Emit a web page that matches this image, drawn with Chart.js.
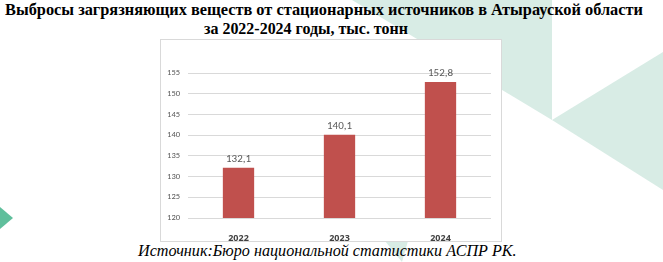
<!DOCTYPE html>
<html>
<head>
<meta charset="utf-8">
<script src="https://cdn.jsdelivr.net/npm/chart.js@4"></script>
<style>
  html, body { margin: 0; padding: 0; }
  body { width: 663px; height: 262px; position: relative; overflow: hidden; background: #fff; }
  #bg { position: absolute; left: 0; top: 0; }
  .title { position: absolute; font-family: 'Liberation Serif', serif; font-weight: bold; font-size: 16.5px; color: #000; white-space: nowrap; line-height: 1; }
  #source { position: absolute; font-family: 'Liberation Serif', serif; font-style: italic; font-size: 15.5px; color: #000; white-space: nowrap; line-height: 1; }
  #chartBox { position: absolute; left: 160px; top: 39px; width: 340px; height: 201px; border: 1px solid #d9d9d9; background: #fff; }
</style>
</head>
<body>
<svg id="bg" width="663" height="262">
  <polygon points="352,0 552,0 552,120" fill="#d8ece5"/>
  <polygon points="552,120 663,52 663,190" fill="#d8ece5"/>
  <polygon points="385,241 408,241 402,262" fill="#d8ece5"/>
  <polygon points="0,207 13,218 0,229" fill="#5fbf9c"/>
</svg>
<div class="title" id="t1" style="left:5px; top:2px;">Выбросы загрязняющих веществ от стационарных источников в Атырауской области</div>
<div class="title" id="t2" style="left:204px; top:21px;">за 2022-2024 годы, тыс. тонн</div>
<div id="chartBox"><canvas id="chart" width="340" height="201"></canvas></div>
<div id="source" style="left:138px; top:243px;">Источник:Бюро национальной статистики АСПР РК.</div>
<script>
// данные с картинки
const years = ['2022', '2023', '2024'];
const emissions = [132.1, 140.1, 152.8];
const yMin = 120;
const yMax = 155;
const yStep = 5;

// подгоняем ширину строк под оригинал
function fitWidth(id, w) {
  const el = document.getElementById(id);
  const k = w / el.getBoundingClientRect().width;
  el.style.fontSize = (parseFloat(getComputedStyle(el).fontSize) * k) + 'px';
}
fitWidth('t1', 638);
fitWidth('t2', 204);
fitWidth('source', 379);

const valueLabels = {
  id: 'valueLabels',
  afterDatasetsDraw(chart) {
    const ctx = chart.ctx;
    const meta = chart.getDatasetMeta(0);
    ctx.save();
    ctx.font = '11px Carlito';
    ctx.fillStyle = '#595959';
    ctx.textAlign = 'center';
    ctx.textBaseline = 'bottom';
    meta.data.forEach((bar, i) => {
      ctx.fillText(emissions[i].toFixed(1).replace('.', ','), bar.x, bar.y - 3);
    });
    ctx.restore();
  }
};

const ctx = document.getElementById('chart').getContext('2d');
const myChart = new Chart(ctx, {
  type: 'bar',
  data: {
    labels: years,
    datasets: [{
      data: emissions,
      backgroundColor: '#c0504d',
      barPercentage: 0.31,
      categoryPercentage: 1
    }]
  },
  options: {
    responsive: false,
    devicePixelRatio: 1,
    animation: false,
    layout: { padding: { top: 33, right: 10, left: 0, bottom: 0 } },
    plugins: { legend: { display: false }, tooltip: { enabled: false } },
    scales: {
      x: {
        grid: { display: false },
        border: { display: false },
        ticks: { color: '#404040', font: { family: "'Open Sans'", size: 9, weight: 'bold' }, padding: 7 },
        afterFit: (s) => { s.height = 23; }
      },
      y: {
        min: yMin,
        max: yMax,
        grid: { color: '#d9d9d9', drawTicks: false },
        border: { display: false },
        ticks: { stepSize: yStep, color: '#595959', font: { family: 'Carlito', size: 8.5 }, padding: 8 },
        afterFit: (s) => { s.width = 27; }
      }
    }
  },
  plugins: [valueLabels]
});
</script>
</body>
</html>
